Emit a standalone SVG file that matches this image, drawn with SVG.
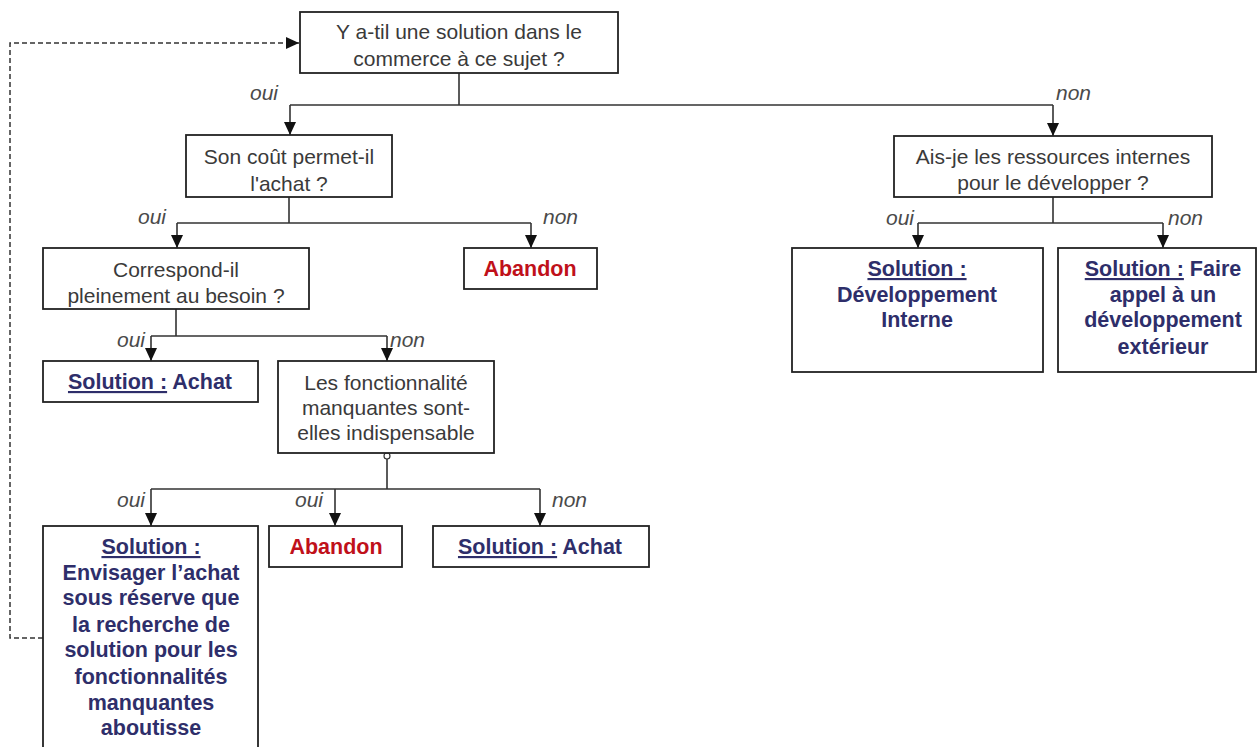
<svg xmlns="http://www.w3.org/2000/svg" width="1257" height="747" viewBox="0 0 1257 747">
<defs>
<style>
.box{fill:#fff;stroke:#222;stroke-width:1.8}
.q{font-family:"Liberation Sans",Arial,sans-serif;font-size:21px;fill:#3a3a3a;text-anchor:middle}
.s{font-family:"Liberation Sans",Arial,sans-serif;font-size:21.5px;font-weight:bold;fill:#2e2e6a;text-anchor:middle}
.u{text-decoration:underline}
.r{font-family:"Liberation Sans",Arial,sans-serif;font-size:21.5px;font-weight:bold;fill:#c0101a;text-anchor:middle}
.lbl{font-family:"Liberation Sans",Arial,sans-serif;font-size:21px;font-style:italic;fill:#4a4a4a}
.ln{fill:none;stroke:#333;stroke-width:1.6}
.arr{fill:none;stroke:#333;stroke-width:1.6;marker-end:url(#ah)}
.dash{fill:none;stroke:#333;stroke-width:1.5;stroke-dasharray:5 3;marker-end:url(#ah)}
</style>
<marker id="ah" markerUnits="userSpaceOnUse" markerWidth="14" markerHeight="12" viewBox="0 0 14 12" refX="13" refY="6" orient="auto">
<path d="M0,0 L13,6 L0,12 Z" fill="#111"/>
</marker>
</defs>
<rect width="1257" height="747" fill="#fff"/>

<g id="connectors">
<path class="ln" d="M459,73 V105 M290,105 H1053"/>
<path class="arr" d="M290,105 V135"/>
<path class="arr" d="M1053,105 V136"/>
<path class="ln" d="M289,197 V223 M177,223 H531"/>
<path class="arr" d="M177,223 V248"/>
<path class="arr" d="M531,223 V248"/>
<path class="ln" d="M1053,197 V223 M918,223 H1163"/>
<path class="arr" d="M918,223 V248"/>
<path class="arr" d="M1163,223 V248"/>
<path class="ln" d="M176,309 V336 M151,336 H387"/>
<path class="arr" d="M151,336 V361"/>
<path class="arr" d="M387,336 V361"/>
<circle cx="387" cy="456" r="3" fill="#fff" stroke="#333" stroke-width="1.2"/>
<path class="ln" d="M387,459 V489 M151,489 H540"/>
<path class="arr" d="M151,489 V526"/>
<path class="arr" d="M335,489 V526"/>
<path class="arr" d="M540,489 V526"/>
<path class="dash" d="M43,638 H10 V43 H299"/>
<text class="lbl" x="250" y="100">oui</text>
<text class="lbl" x="1056" y="100">non</text>
<text class="lbl" x="138" y="224">oui</text>
<text class="lbl" x="543" y="224">non</text>
<text class="lbl" x="886" y="225">oui</text>
<text class="lbl" x="1168" y="225">non</text>
<text class="lbl" x="117" y="347">oui</text>
<text class="lbl" x="390" y="347">non</text>
<text class="lbl" x="117" y="507">oui</text>
<text class="lbl" x="295" y="507">oui</text>
<text class="lbl" x="552" y="507">non</text>
</g>

<g id="n1">
<rect class="box" x="300" y="12" width="318" height="61"/>
<text class="q" x="459" y="39">Y a-til une solution dans le</text>
<text class="q" x="459" y="66">commerce à ce sujet ?</text>
</g>
<g id="n2">
<rect class="box" x="186" y="135" width="206" height="62"/>
<text class="q" x="289" y="164">Son coût permet-il</text>
<text class="q" x="289" y="191">l'achat ?</text>
</g>
<g id="n3">
<rect class="box" x="894" y="136" width="318" height="61"/>
<text class="q" x="1053" y="164">Ais-je les ressources internes</text>
<text class="q" x="1053" y="190">pour le développer ?</text>
</g>
<g id="n4">
<rect class="box" x="43" y="248" width="266" height="61"/>
<text class="q" x="176" y="277">Correspond-il</text>
<text class="q" x="176" y="303">pleinement au besoin ?</text>
</g>
<g id="n5">
<rect class="box" x="464" y="248" width="133" height="41"/>
<text class="r" x="530" y="276">Abandon</text>
</g>
<g id="n6">
<rect class="box" x="792" y="248" width="251" height="124"/>
<text class="s" x="917" y="276"><tspan class="u">Solution :</tspan></text>
<text class="s" x="917" y="302">Développement</text>
<text class="s" x="917" y="327">Interne</text>
</g>
<g id="n7">
<rect class="box" x="1058" y="248" width="198" height="124"/>
<text class="s" x="1163" y="276"><tspan class="u">Solution :</tspan> Faire</text>
<text class="s" x="1163" y="302">appel à un</text>
<text class="s" x="1163" y="327">développement</text>
<text class="s" x="1163" y="354">extérieur</text>
</g>
<g id="n8">
<rect class="box" x="43" y="361" width="215" height="41"/>
<text class="s" x="150" y="389"><tspan class="u">Solution :</tspan> Achat</text>
</g>
<g id="n9">
<rect class="box" x="278" y="361" width="216" height="92"/>
<text class="q" x="386" y="390">Les fonctionnalité</text>
<text class="q" x="386" y="415">manquantes sont-</text>
<text class="q" x="386" y="440">elles indispensable</text>
</g>
<g id="n10">
<rect class="box" x="43" y="526" width="215" height="230"/>
<text class="s" x="151" y="554"><tspan class="u">Solution :</tspan></text>
<text class="s" x="151" y="580">Envisager l’achat</text>
<text class="s" x="151" y="605">sous réserve que</text>
<text class="s" x="151" y="632">la recherche de</text>
<text class="s" x="151" y="657">solution pour les</text>
<text class="s" x="151" y="684">fonctionnalités</text>
<text class="s" x="151" y="710">manquantes</text>
<text class="s" x="151" y="735">aboutisse</text>
</g>
<g id="n11">
<rect class="box" x="269" y="526" width="133" height="41"/>
<text class="r" x="336" y="554">Abandon</text>
</g>
<g id="n12">
<rect class="box" x="433" y="526" width="216" height="41"/>
<text class="s" x="540" y="554"><tspan class="u">Solution :</tspan> Achat</text>
</g>
</svg>
